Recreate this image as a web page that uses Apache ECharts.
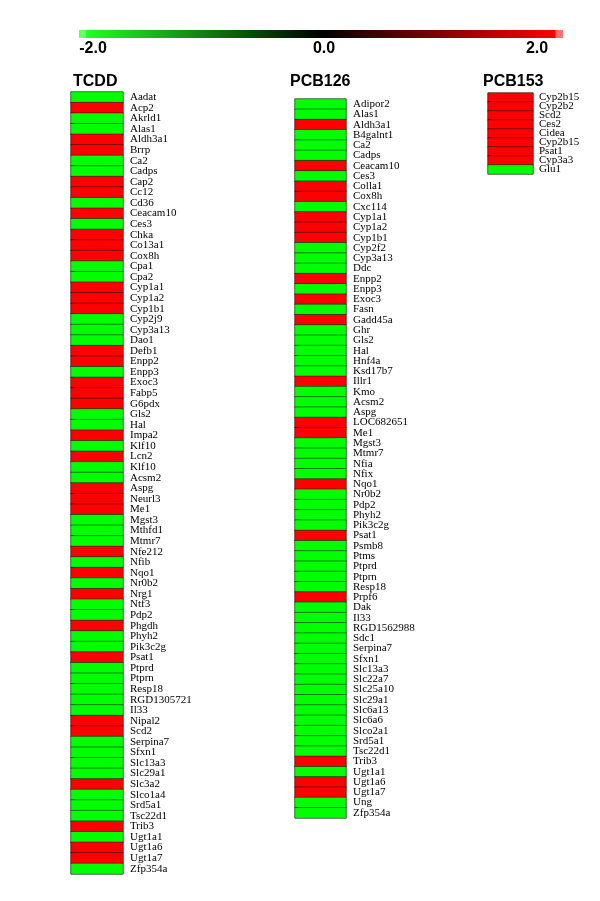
<!DOCTYPE html>
<html>
<head>
<meta charset="utf-8">
<script src="https://cdn.jsdelivr.net/npm/echarts@6/dist/echarts.min.js"></script>
<style>html,body{margin:0;padding:0;background:#fff;}#chart{width:600px;height:901px;}</style>
</head>
<body>
<div id="chart"></div>
<script>
// ---- data ----
const colorbarTicks = ['-2.0', '0.0', '2.0'];
const colorbarTickValues = [-2, 0, 2];

const tcddGenes = ['Aadat','Acp2','Akrld1','Alas1','Aldh3a1','Brrp','Ca2','Cadps','Cap2','Cc12','Cd36','Ceacam10','Ces3','Chka','Co13a1','Cox8h','Cpa1','Cpa2','Cyp1a1','Cyp1a2','Cyp1b1','Cyp2j9','Cyp3a13','Dao1','Defb1','Enpp2','Enpp3','Exoc3','Fabp5','G6pdx','Gls2','Hal','Impa2','Klf10','Lcn2','Klf10','Acsm2','Aspg','Neurl3','Me1','Mgst3','Mthfd1','Mtmr7','Nfe212','Nfib','Nqo1','Nr0b2','Nrg1','Ntf3','Pdp2','Phgdh','Phyh2','Pik3c2g','Psat1','Ptprd','Ptprn','Resp18','RGD1305721','Il33','Nipal2','Scd2','Serpina7','Sfxn1','Slc13a3','Slc29a1','Slc3a2','Slco1a4','Srd5a1','Tsc22d1','Trib3','Ugt1a1','Ugt1a6','Ugt1a7','Zfp354a'];
const tcddValues = [-2,2,-2,-2,2,2,-2,-2,2,2,-2,2,-2,2,2,2,-2,-2,2,2,2,-2,-2,-2,2,2,-2,2,2,2,-2,-2,2,-2,2,-2,-2,2,2,2,-2,-2,-2,2,-2,2,-2,2,-2,-2,2,-2,-2,2,-2,-2,-2,-2,-2,2,2,-2,-2,-2,-2,2,-2,-2,-2,2,-2,2,2,-2];

const pcb126Genes = ['Adipor2','Alas1','Aldh3a1','B4galnt1','Ca2','Cadps','Ceacam10','Ces3','Colla1','Cox8h','Cxc114','Cyp1a1','Cyp1a2','Cyp1b1','Cyp2f2','Cyp3a13','Ddc','Enpp2','Enpp3','Exoc3','Fasn','Gadd45a','Ghr','Gls2','Hal','Hnf4a','Ksd17b7','Illr1','Kmo','Acsm2','Aspg','LOC682651','Me1','Mgst3','Mtmr7','Nfia','Nfix','Nqo1','Nr0b2','Pdp2','Phyh2','Pik3c2g','Psat1','Psmb8','Ptms','Ptprd','Ptprn','Resp18','Prpf6','Dak','Il33','RGD1562988','Sdc1','Serpina7','Sfxn1','Slc13a3','Slc22a7','Slc25a10','Slc29a1','Slc6a13','Slc6a6','Slco2a1','Srd5a1','Tsc22d1','Trib3','Ugt1a1','Ugt1a6','Ugt1a7','Ung','Zfp354a'];
const pcb126Values = [-2,-2,2,-2,-2,-2,2,-2,2,2,-2,2,2,2,-2,-2,-2,2,-2,2,-2,2,-2,-2,-2,-2,-2,2,-2,-2,-2,2,2,-2,-2,-2,-2,2,-2,-2,-2,-2,2,-2,-2,-2,-2,-2,2,-2,-2,-2,-2,-2,-2,-2,-2,-2,-2,-2,-2,-2,-2,-2,2,-2,2,2,-2,-2];

const pcb153Genes = ['Cyp2b15','Cyp2b2','Scd2','Ces2','Cidea','Cyp2b15','Psat1','Cyp3a3','Glu1'];
const pcb153Values = [2,2,2,2,2,2,2,2,-2];

const panelTitles = ['TCDD', 'PCB126', 'PCB153'];

// ---- chart ----
const panels = [
  {genes: tcddGenes, values: tcddValues, left: 71, width: 52, top: 92, height: 782, tx: 73, margin: 7},
  {genes: pcb126Genes, values: pcb126Values, left: 295, width: 51, top: 99, height: 719, tx: 290, margin: 7},
  {genes: pcb153Genes, values: pcb153Values, left: 488, width: 45, top: 93, height: 81, tx: 483, margin: 6}
];

const grid = [], xAxis = [], yAxis = [], series = [], title = [];
panels.forEach((p, i) => {
  grid.push({left: p.left, top: p.top, width: p.width, height: p.height, show: true,
    borderColor: '#9a9a9a', borderWidth: 1, backgroundColor: 'transparent'});
  xAxis.push({type: 'category', gridIndex: i, data: [''], show: false});
  yAxis.push({type: 'category', gridIndex: i, data: p.genes, inverse: true, position: 'right',
    axisLine: {show: false}, axisTick: {show: false}, splitLine: {show: false},
    axisLabel: {interval: 0, margin: p.margin, color: '#000', fontSize: 11,
      fontFamily: '"Liberation Serif", "Times New Roman", serif'}});
  series.push({type: 'heatmap', xAxisIndex: i, yAxisIndex: i,
    data: p.values.map((v, j) => [0, j, v]),
    itemStyle: {borderColor: 'rgba(0,0,0,0.45)', borderWidth: 1},
    emphasis: {disabled: true}});
  title.push({text: panelTitles[i], left: p.tx, top: 74, padding: 0,
    textStyle: {fontSize: 16, fontWeight: 'bold', color: '#000',
      fontFamily: '"Liberation Sans", Arial, sans-serif'}});
});

const barLeft = 79, barRight = 563;
const tickX = [93, 324, 537];
const graphic = [
  {type: 'rect', shape: {x: barLeft, y: 30, width: barRight - barLeft, height: 8},
    style: {fill: new echarts.graphic.LinearGradient(0, 0, 1, 0, [
      {offset: 0, color: '#66ff66'}, {offset: 0.014, color: '#66ff66'},
      {offset: 0.015, color: '#22ff22'}, {offset: 0.5, color: '#000000'},
      {offset: 0.984, color: '#ff0000'}, {offset: 0.985, color: '#ff7070'},
      {offset: 1, color: '#ff7070'}])}}
];
colorbarTicks.forEach((t, i) => {
  graphic.push({type: 'text', x: tickX[i], y: 49,
    style: {text: t, fill: '#000', font: 'bold 16px "Liberation Sans", Arial, sans-serif',
      textAlign: 'center', textVerticalAlign: 'middle'}});
});

const chart = echarts.init(document.getElementById('chart'), null, {renderer: 'canvas'});
chart.setOption({
  backgroundColor: '#fff',
  animation: false,
  title: title,
  grid: grid,
  xAxis: xAxis,
  yAxis: yAxis,
  visualMap: {show: false, type: 'continuous', min: colorbarTickValues[0], max: colorbarTickValues[2],
    seriesIndex: [0, 1, 2], inRange: {color: ['#00ff00', '#000000', '#ff0000']}},
  graphic: graphic,
  series: series
});
</script>
</body>
</html>
